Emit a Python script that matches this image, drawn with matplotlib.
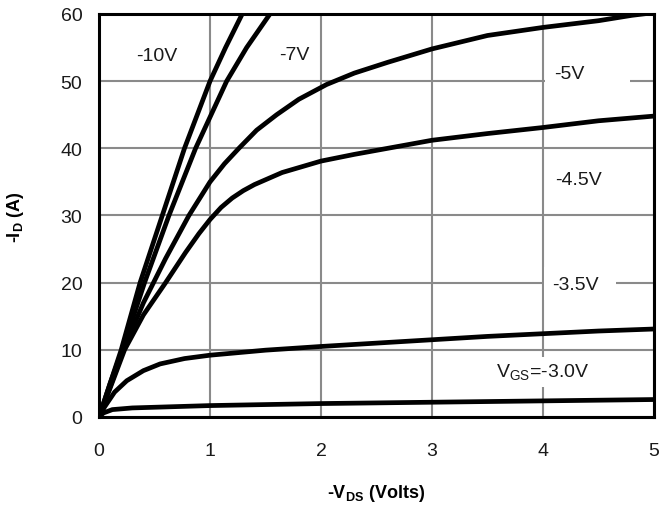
import matplotlib
matplotlib.use("Agg")
import matplotlib.pyplot as plt
from matplotlib.patches import Rectangle

plt.rcParams['font.family'] = ['Liberation Sans', 'DejaVu Sans']
plt.rcParams['mathtext.fontset'] = 'custom'
plt.rcParams['mathtext.rm'] = 'Liberation Sans'
plt.rcParams['mathtext.bf'] = 'Liberation Sans:bold'

# curves: -VDS (V) vs -ID (A), one per VGS
vds_10 = [0, 0.1, 0.2, 0.37, 0.57, 0.77, 1.0, 1.14, 1.29]
id_10 = [0, 5, 10, 20, 30, 40, 50, 55, 60]

vds_7 = [0, 0.1, 0.21, 0.41, 0.63, 0.87, 1.15, 1.33, 1.54]
id_7 = [0, 5, 10, 20, 30, 40, 50, 55, 60]

vds_5 = [0, 0.1, 0.22, 0.4, 0.6, 0.81, 1.0, 1.13, 1.26, 1.42, 1.6, 1.8, 2.05, 2.3, 2.6, 3.0, 3.5, 4.0, 4.5, 4.8, 5.0]
id_5 = [0, 4.5, 10, 17, 23.6, 30, 35, 37.7, 40, 42.7, 45, 47.3, 49.5, 51.2, 52.8, 54.8, 56.8, 58.0, 59.0, 59.8, 60.2]

vds_45 = [0, 0.1, 0.23, 0.4, 0.6, 0.78, 0.9, 1.0, 1.1, 1.2, 1.3, 1.4, 1.65, 2.0, 2.3, 2.6, 3.0, 3.5, 4.0, 4.5, 5.0]
id_45 = [0, 4.3, 10, 15.2, 20, 24.5, 27.3, 29.4, 31.2, 32.6, 33.7, 34.6, 36.4, 38.1, 39.1, 40.0, 41.2, 42.2, 43.1, 44.1, 44.8]

vds_35 = [0, 0.05, 0.14, 0.25, 0.4, 0.55, 0.77, 1.0, 1.5, 2.0, 2.5, 3.0, 3.5, 4.0, 4.5, 5.0]
id_35 = [0, 1.5, 3.7, 5.4, 6.9, 7.9, 8.7, 9.2, 9.95, 10.5, 11.0, 11.5, 12.0, 12.4, 12.8, 13.1]

vds_30 = [0, 0.04, 0.12, 0.3, 0.6, 1.0, 2.0, 3.0, 4.0, 5.0]
id_30 = [0, 0.6, 1.1, 1.35, 1.5, 1.7, 2.0, 2.2, 2.4, 2.6]

curves = [(vds_10, id_10), (vds_7, id_7), (vds_5, id_5),
          (vds_45, id_45), (vds_35, id_35), (vds_30, id_30)]

x_ticks = [0, 1, 2, 3, 4, 5]
y_ticks = [0, 10, 20, 30, 40, 50, 60]

fig = plt.figure(figsize=(6.61, 5.10), dpi=100)
ax = fig.add_axes([0.1498, 0.1804, 0.8396, 0.7902])

ax.set_xlim(0, 5)
ax.set_ylim(0, 60)
ax.set_xticks(x_ticks)
ax.set_yticks(y_ticks)
ax.tick_params(length=0, labelsize=14, labelcolor='#1a1a1a')
ax.tick_params(axis='x', pad=18)
ax.tick_params(axis='y', pad=12)
ax.set_axisbelow(True)
ax.grid(True, color='#8a8a8a', lw=1.5)
for s in ax.spines.values():
    s.set_linewidth(2.2)
    s.set_color('black')
    s.set_zorder(5)

for x, y in curves:
    ax.plot(x, y, color='black', lw=3.4, zorder=3, solid_joinstyle='round')

# white boxes behind some labels (they cut the grid in the original)
for (x0, y0, w, h) in [(4.02, 47.6, 0.76, 6.8), (4.01, 17.4, 0.65, 5.0), (3.45, 4.4, 1.1, 4.6)]:
    ax.add_patch(Rectangle((x0, y0), w, h, facecolor='white', edgecolor='none', zorder=1))

tc = '#1a1a1a'
fs = 14
ax.text(0.52, 53.8, '-10V', fontsize=fs, color=tc, ha='center', va='center', zorder=4)
ax.text(1.76, 54.0, '-7V', fontsize=fs, color=tc, ha='center', va='center', zorder=4)
ax.text(4.24, 51.1, '-5V', fontsize=fs, color=tc, ha='center', va='center', zorder=4)
ax.text(4.32, 35.4, '-4.5V', fontsize=fs, color=tc, ha='center', va='center', zorder=4)
ax.text(4.29, 19.8, '-3.5V', fontsize=fs, color=tc, ha='center', va='center', zorder=4)
ax.text(4.0, 6.7, r'V$_{\mathrm{GS}}$=-3.0V', fontsize=fs, color=tc, ha='center', va='center', zorder=4)

fig.text(376 / 661, 1 - 494 / 510, r'-V$_{\mathbf{DS}}$ (Volts)', fontsize=13,
         fontweight='bold', ha='center', va='center')
fig.text(16 / 661, 1 - 217 / 510, r'-I$_{\mathbf{D}}$ (A)', fontsize=13,
         fontweight='bold', ha='center', va='center', rotation=90)

fig.savefig('out.png', dpi=100)
